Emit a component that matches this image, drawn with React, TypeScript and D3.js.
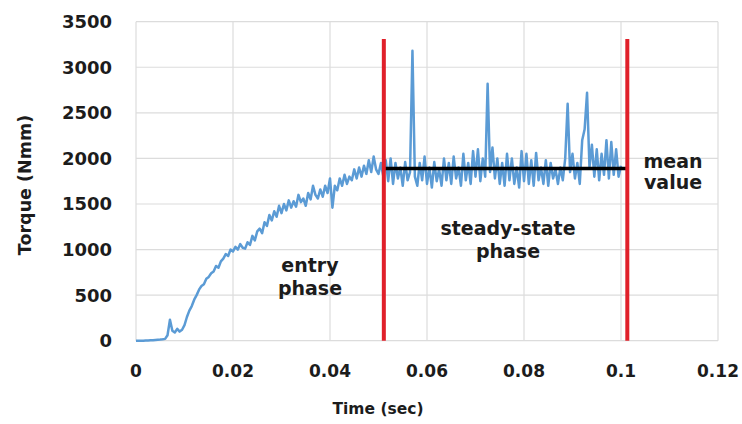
import React from "react";
import * as d3 from "d3";

const W = 742;
const H = 424;

// sample step of the torque record (sec)
const timeStep = 0.0005;
// torque values (Nmm), one per time step starting at t = 0
const torque: number[] = [
  0, 0, 0, 0, 2, 3, 5, 6, 8, 10, 12, 15, 20,
  60, 230, 110, 90, 130, 100, 120, 170, 260, 330, 380, 450, 500, 560, 600, 620, 680,
  700, 740, 760, 820, 800, 870, 900, 950, 930, 1000,
  980, 1030, 1000, 1060, 1020, 1010, 1080, 1050, 1150, 1100,
  1200, 1230, 1180, 1300, 1260, 1380, 1320, 1420, 1360, 1480,
  1400, 1500, 1430, 1540, 1460, 1530, 1470, 1600, 1520, 1560,
  1480, 1620, 1550, 1700, 1600, 1560, 1660, 1580, 1700, 1620,
  1780, 1460, 1700, 1650, 1780, 1700, 1820, 1720, 1800, 1760,
  1880, 1780, 1900, 1800, 1920, 1830, 1980, 1850, 2020, 1880,
  1830, 1950, 1800, 1980, 1750, 2000, 1720, 1950, 1780, 1900,
  1700, 1960, 1760, 1850, 3180, 1800, 1700, 1950, 1760, 2020,
  1720, 1900, 1680, 1960, 1750, 1880, 1700, 2000, 1760, 1950,
  1720, 2020, 1780, 1900, 1700, 2050, 1760, 1950, 1720, 2080,
  1800, 2100, 1750, 2000, 1800, 2820, 1850, 2120, 1780, 2000,
  1720, 1950, 1700, 2050, 1760, 2000, 1720, 1900, 1680, 2080,
  1750, 2050, 1720, 1980, 1700, 2060, 1760, 1900, 1720, 1980,
  1700, 1950, 1780, 1880, 1720, 1900, 1760, 2000, 2600, 1850,
  2050, 1780, 1950, 1720, 2200, 2320, 2720, 1900, 2150, 1800,
  2100, 1760, 2050, 1820, 2200, 1780, 2180, 1820, 2100, 1800,
  1920,
];

const xTicks = [0, 0.02, 0.04, 0.06, 0.08, 0.1, 0.12];
const xTickLabels = ["0", "0.02", "0.04", "0.06", "0.08", "0.1", "0.12"];
const yTicks = [0, 500, 1000, 1500, 2000, 2500, 3000, 3500];

// phase boundaries (sec) and marker height (Nmm)
const phaseBounds = [0.0511, 0.1013];
const boundTop = 3310;
const meanValue = 1890;

const FONT = "'DejaVu Sans', Verdana, sans-serif";
const TEXT = "#1c1c1c";

export default function App() {
  const x = d3.scaleLinear().domain([0, 0.12]).range([136, 718]);
  const y = d3.scaleLinear().domain([0, 3500]).range([340.7, 21.7]);

  const line = d3
    .line<number>()
    .x((_, i) => x(i * timeStep))
    .y((d) => y(d));

  return (
    <div style={{ position: "absolute", left: 0, top: 0, width: W, height: H, background: "#fff" }}>
      <svg width={W} height={H} style={{ display: "block" }}>
        <rect x={0} y={0} width={W} height={H} fill="#fff" />
        {/* grid */}
        {yTicks.map((t) => (
          <line key={"gy" + t} x1={x(0)} x2={x(0.12)} y1={y(t)} y2={y(t)} stroke="#dcdcdc" strokeWidth={1.2} />
        ))}
        {xTicks.map((t) => (
          <line key={"gx" + t} x1={x(t)} x2={x(t)} y1={y(0)} y2={y(3500)} stroke="#dcdcdc" strokeWidth={1.2} />
        ))}
        {/* y tick labels */}
        {yTicks.map((t) => (
          <text
            key={"ty" + t}
            x={112}
            y={y(t)}
            dy="0.36em"
            textAnchor="end"
            fontFamily={FONT}
            fontWeight="bold"
            fontSize={18}
            fill={TEXT}
          >
            {t}
          </text>
        ))}
        {/* x tick labels */}
        {xTicks.map((t, i) => (
          <text
            key={"tx" + t}
            x={x(t)}
            y={377}
            textAnchor="middle"
            fontFamily={FONT}
            fontWeight="bold"
            fontSize={17}
            fill={TEXT}
          >
            {xTickLabels[i]}
          </text>
        ))}
        {/* axis titles */}
        <text
          transform={`translate(31,185) rotate(-90)`}
          textAnchor="middle"
          fontFamily={FONT}
          fontWeight="bold"
          fontSize={17.5}
          fill={TEXT}
        >
          Torque (Nmm)
        </text>
        <text x={378} y={414} textAnchor="middle" fontFamily={FONT} fontWeight="bold" fontSize={15.5} fill={TEXT}>
          Time (sec)
        </text>
        {/* data */}
        <path d={line(torque) || ""} fill="none" stroke="#5b9bd5" strokeWidth={2.5} strokeLinejoin="round" />
        {/* mean line */}
        <line
          x1={x(phaseBounds[0])}
          x2={x(phaseBounds[1])}
          y1={y(meanValue)}
          y2={y(meanValue)}
          stroke="#000"
          strokeWidth={3.5}
        />
        {/* phase boundaries */}
        {phaseBounds.map((b) => (
          <line key={"pb" + b} x1={x(b)} x2={x(b)} y1={y(0)} y2={y(boundTop)} stroke="#e0202a" strokeWidth={4} />
        ))}
        {/* annotations */}
        <g fontFamily={FONT} fontWeight="bold" fontSize={19} fill={TEXT} textAnchor="middle">
          <text x={310} y={272}>entry</text>
          <text x={310} y={295}>phase</text>
          <text x={508} y={235}>steady-state</text>
          <text x={508} y={258}>phase</text>
          <text x={673} y={168}>mean</text>
          <text x={673} y={189}>value</text>
        </g>
      </svg>
    </div>
  );
}
